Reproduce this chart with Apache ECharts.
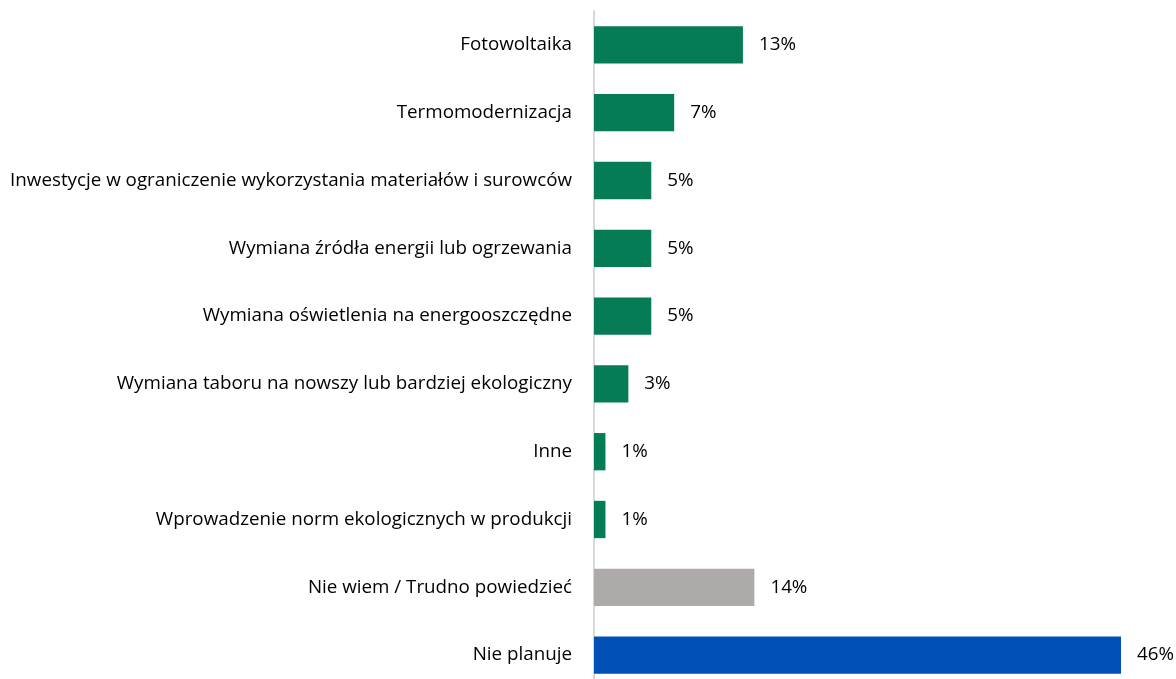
<!DOCTYPE html>
<html>
<head>
<meta charset="utf-8">
<script src="https://cdn.jsdelivr.net/npm/echarts@6/dist/echarts.min.js"></script>
<style>
  html, body { margin: 0; padding: 0; background: #fff; }
  #chart { width: 1176px; height: 679px; }
</style>
</head>
<body>
<div id="chart"></div>
<script>
// dane
const categories = [
  'Fotowoltaika',
  'Termomodernizacja',
  'Inwestycje w ograniczenie wykorzystania materiałów i surowców',
  'Wymiana źródła energii lub ogrzewania',
  'Wymiana oświetlenia na energooszczędne',
  'Wymiana taboru na nowszy lub bardziej ekologiczny',
  'Inne',
  'Wprowadzenie norm ekologicznych w produkcji',
  'Nie wiem / Trudno powiedzieć',
  'Nie planuje'
]
const values = [13, 7, 5, 5, 5, 3, 1, 1, 14, 46]
const barColors = ['#067c56', '#067c56', '#067c56', '#067c56', '#067c56', '#067c56', '#067c56', '#067c56', '#aeaaaa', '#0050b8']

const chart = echarts.init(document.getElementById('chart'))
const font = '"Open Sans", "Noto Sans", sans-serif'

chart.setOption({
  animation: false,
  grid: {
    left: 594,
    right: 55,
    top: 11,
    height: 678,
    outerBoundsMode: 'none'
  },
  xAxis: {
    type: 'value',
    min: 0,
    max: 46,
    show: false
  },
  yAxis: {
    type: 'category',
    inverse: true,
    data: categories,
    axisLine: { lineStyle: { color: '#d9d9d9', width: 2 } },
    axisTick: { show: false },
    axisLabel: {
      margin: 22,
      color: '#000',
      fontSize: 18.8,
      fontFamily: font
    }
  },
  series: [{
    type: 'bar',
    data: values.map((v, i) => ({ value: v, itemStyle: { color: barColors[i] } })),
    barCategoryGap: '45%',
    label: {
      show: true,
      position: 'right',
      distance: 16,
      formatter: '{c}%',
      color: '#000',
      fontSize: 18.8,
      fontFamily: font
    }
  }]
})
</script>
</body>
</html>
